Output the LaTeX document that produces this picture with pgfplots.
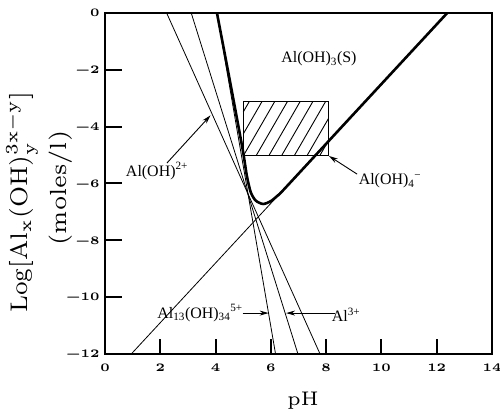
\documentclass[border=0pt]{standalone}
\usepackage{fontspec}
\usepackage{graphicx}
\usepackage{pgfplots}
\pgfplotsset{compat=1.18}
\usetikzlibrary{arrows.meta}
\newfontfamily\labfont{Liberation Serif}
% wide bold tick numbers: small optical size, enlarged
\newcommand{\tl}[1]{\scalebox{2.5}[2.3]{\fontsize{5}{6}\selectfont\bfseries #1}}
\newcommand{\lab}{\labfont\fontsize{16}{18}\selectfont}

\begin{document}
\begin{tikzpicture}
\begin{axis}[
  at={(0,0)}, anchor=south west,
  scale only axis, width=387bp, height=341bp,
  xmin=0, xmax=14, ymin=-12, ymax=0,
  xtick={0,2,...,14}, ytick={0,-2,-4,-6,-8,-10,-12},
  xticklabels={\tl{0},\tl{2},\tl{4},\tl{6},\tl{8},\tl{10},\tl{12},\tl{14}},
  yticklabels={\tl{0},\tl{−2},\tl{−4},\tl{−6},\tl{−8},\tl{−10},\tl{−12}},
  major tick length=0pt,
  axis line style={line width=1.3bp},
  xticklabel style={yshift=-6bp},
  yticklabel style={xshift=-2bp},
]
% single-species solubility lines
\addplot[black, line width=0.8bp] coordinates {(2.23,0) (7.78,-12)};   % Al(OH)2+
\addplot[black, line width=0.8bp] coordinates {(3.12,0) (6.98,-12)};   % Al3+
\addplot[black, line width=0.8bp] coordinates {(4.05,0) (6.17,-12)};   % Al13(OH)34 5+
\addplot[black, line width=0.8bp] coordinates {(0.95,-12) (12.38,0)};  % Al(OH)4-
% operating window with hatching
\addplot[draw=black, line width=1bp] coordinates {(5.0,-5.0) (8.08,-5.0) (8.08,-3.12) (5.0,-3.12) (5.0,-5.0)};
\pgfplotsset{hatch/.style={black, line width=0.9bp, forget plot}}
\addplot[hatch] coordinates {(5.00,-3.485) (5.217,-3.12)};
\addplot[hatch] coordinates {(5.00,-4.26) (5.677,-3.12)};
\addplot[hatch] coordinates {(5.02,-5) (6.137,-3.12)};
\addplot[hatch] coordinates {(5.48,-5) (6.597,-3.12)};
\addplot[hatch] coordinates {(5.94,-5) (7.057,-3.12)};
\addplot[hatch] coordinates {(6.40,-5) (7.517,-3.12)};
\addplot[hatch] coordinates {(6.86,-5) (7.977,-3.12)};
\addplot[hatch] coordinates {(7.32,-5) (8.08,-3.72)};
\addplot[hatch] coordinates {(7.78,-5) (8.08,-4.50)};
% total dissolved aluminium
\addplot[black, line width=2.6bp, smooth, tension=0.45] coordinates {
  (4.05,0) (4.55,-2.55) (4.98,-4.8) (5.13,-5.72) (5.27,-6.3) (5.45,-6.6)
  (5.72,-6.72) (6.0,-6.62) (6.25,-6.42) (6.5,-6.18) (9,-3.55) (12.38,0)};
% label arrows
\addplot[black, line width=0.9bp, -{Stealth[length=9bp,width=5bp]}] coordinates {(2.24,-5.28) (3.82,-3.6)};
\addplot[black, line width=0.9bp, -{Stealth[length=9bp,width=5bp]}] coordinates {(9.12,-5.67) (8.1,-5.03)};
\addplot[black, line width=0.9bp, -{Stealth[length=9bp,width=5bp]}] coordinates {(4.98,-10.56) (5.92,-10.56)};
\addplot[black, line width=0.9bp, -{Stealth[length=9bp,width=5bp]}] coordinates {(8.32,-10.56) (6.55,-10.56)};
% species labels
\node[font=\lab] at (axis cs:7.74,-1.62) {Al(OH)\textsubscript{3}(S)};
\node[font=\lab] at (axis cs:1.88,-5.56) {Al(OH)\textsuperscript{2+}};
\node[font=\lab] at (axis cs:10.31,-5.91) {Al(OH)\textsubscript{4}\textsuperscript{−}};
\node[font=\lab] at (axis cs:3.44,-10.56) {Al\textsubscript{13}(OH)\textsubscript{34}\textsuperscript{5+}};
\node[font=\lab] at (axis cs:8.72,-10.63) {Al\textsuperscript{3+}};
\end{axis}
% inward tick marks: 387bp spans pH 0-14, 341bp spans log 0 to -12
\foreach \i in {1,...,6} {
  \draw[black, line width=2bp] ({\i*2*387/14*1bp},0) -- ++(0,15bp);
}
\foreach \j in {1,...,5} {
  \draw[black, line width=2bp] (0,{341bp-\j*2*341/12*1bp}) -- ++(17bp,0);
}
% axis titles
\node[rotate=90] at (-83bp,152bp) {\scalebox{3.45}{\fontsize{7}{8}\selectfont Log[Al$_{\mathrm{x}}$(OH)$_{\mathrm{y}}^{\mathrm{3x-y}}$]}};
\node[rotate=90] at (-44bp,166bp) {\scalebox{3.9}{\fontsize{6}{7}\selectfont (moles/l)}};
\node at (198bp,-47bp) {\scalebox{3.3}{\fontsize{6}{7}\selectfont pH}};
\pgfresetboundingbox
\path[use as bounding box] (-105bp,-59bp) rectangle (395bp,354bp);
\end{tikzpicture}
\end{document}
